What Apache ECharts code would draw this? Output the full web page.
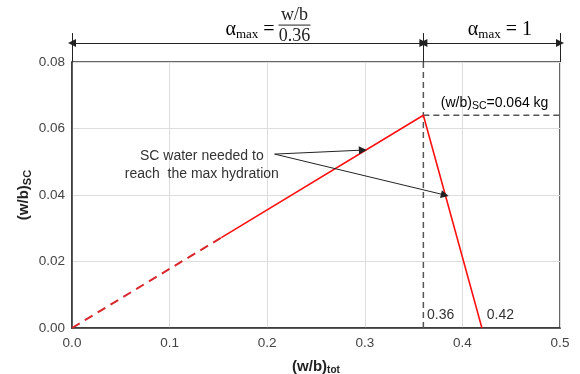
<!DOCTYPE html>
<html>
<head>
<meta charset="utf-8">
<script src="https://cdn.jsdelivr.net/npm/echarts@6/dist/echarts.min.js"></script>
<style>
html,body{margin:0;padding:0;background:#fff;}
#main{width:580px;height:374px;}
</style>
</head>
<body>
<div id="main"></div>
<script>
// curve of (w/b)sc against (w/b)tot
let dashedPart = [[0, 0], [0.153, 0.0272]];
let solidPart = [[0.153, 0.0272], [0.36, 0.064], [0.42, 0]];
let peakX = 0.36, peakY = 0.064, endX = 0.42;
let xMax = 0.5, yMax = 0.08;
// dimension line above the plot
let dimTop = 0.0887, dimY = 0.0857;
// annotation arrows: start, ends
let noteStart = [0.2076, 0.0523];
let noteEnds = [[0.298, 0.0535], [0.382, 0.040]];

let chart = echarts.init(document.getElementById('main'));
let font = '"Liberation Sans", Arial, sans-serif';
let serif = '"Liberation Serif", "DejaVu Serif", serif';

let refStyle = {color: '#555', width: 1.5, type: [6, 4]};
let blackLine = {color: '#222', width: 1, type: 'solid', opacity: 1, curveness: 0};

function linesSeries(pairs, sym) {
    return {
        type: 'lines', coordinateSystem: 'cartesian2d', clip: false, silent: true, z: 6,
        symbol: sym, symbolSize: 8, lineStyle: blackLine,
        data: pairs.map(p => ({coords: p}))
    };
}

option = {
    animation: false,
    grid: {left: 72, right: 20, top: 62, bottom: 46, outerBoundsMode: 'none', containLabel: false,
        show: true, borderColor: '#333', borderWidth: 1.5},
    xAxis: {
        type: 'value', min: 0, max: xMax, interval: 0.1,
        name: '{b|(w/b)}{s|tot}', nameLocation: 'middle', nameGap: 30,
        nameTextStyle: {rich: {
            b: {fontFamily: font, fontWeight: 'bold', fontSize: 15, color: '#222'},
            s: {fontFamily: font, fontWeight: 'bold', fontSize: 10, color: '#222', verticalAlign: 'bottom', padding: [7, 0, 0, 0]}
        }},
        axisLine: {lineStyle: {color: '#333', width: 1.5}},
        axisTick: {show: false},
        axisLabel: {fontFamily: font, fontSize: 13.5, color: '#444', margin: 8, formatter: v => v.toFixed(1)},
        splitLine: {lineStyle: {color: '#ddd', width: 1}}
    },
    yAxis: {
        type: 'value', min: 0, max: yMax, interval: 0.02,
        name: '{b|(w/b)}{s|SC}', nameLocation: 'middle', nameGap: 39, nameRotate: 90, nameMoveOverlap: false,
        nameTextStyle: {rich: {
            b: {fontFamily: font, fontWeight: 'bold', fontSize: 15, color: '#222'},
            s: {fontFamily: font, fontWeight: 'bold', fontSize: 11, color: '#222', verticalAlign: 'bottom', padding: [7, 0, 0, 0]}
        }},
        axisLine: {show: true, lineStyle: {color: '#333', width: 1.5}},
        axisTick: {show: false},
        axisLabel: {fontFamily: font, fontSize: 13.5, color: '#444', margin: 7, formatter: v => v.toFixed(2)},
        splitLine: {lineStyle: {color: '#ddd', width: 1}}
    },
    series: [{
        type: 'line', data: dashedPart, symbol: 'none', z: 5,
        lineStyle: {color: '#d9262b', width: 2, type: [9, 6]}
    }, {
        type: 'line', data: solidPart, symbol: 'none', z: 5,
        lineStyle: {color: '#ff1010', width: 1.6}
    }, {
        type: 'line', data: [[peakX, 0], [peakX, yMax]], symbol: 'none', z: 4, lineStyle: refStyle
    }, {
        type: 'line', data: [[peakX, peakY], [xMax, peakY]], symbol: 'none', z: 4, lineStyle: refStyle
    },
    linesSeries([
        [[0, yMax], [0, dimTop]],
        [[peakX, yMax], [peakX, dimTop]],
        [[xMax, yMax], [xMax, dimTop]]
    ], ['none', 'none']),
    linesSeries([
        [[0, dimY], [peakX, dimY]],
        [[peakX, dimY], [xMax, dimY]]
    ], ['triangle', 'triangle']),
    linesSeries([
        [noteStart, noteEnds[0]],
        [noteStart, noteEnds[1]]
    ], ['none', 'triangle'])
    ]
};

chart.setOption(option);

function px(p) { return chart.convertToPixel({gridIndex: 0}, p); }
let a = px([0.2076, 0.0896]), f = px([0.228, 0.0911]), fw = px([0.228, 0.0941]), fd = px([0.228, 0.0878]);
let a1 = px([0.4384, 0.0896]), lab = px([0.433, 0.0677]);
let l36 = px([0.3637, 0.0018]), l42 = px([0.425, 0.0018]), note = px([0.133, 0.0491]);
let serifStyle = {fontFamily: serif, fontSize: 18, fill: '#222'};
let rich = {
    a: {fontFamily: serif, fontSize: 20, color: '#222'},
    s: {fontFamily: serif, fontSize: 13, color: '#222', verticalAlign: 'bottom', padding: [8, 0, 0, 0]},
    e: {fontFamily: serif, fontSize: 20, color: '#222'}
};
chart.setOption({graphic: [
    {type: 'text', x: a[0], y: a[1], style: {text: '{a|α}{s|max}{e| =}', rich: rich, align: 'right', verticalAlign: 'middle'}},
    {type: 'text', x: fw[0], y: fw[1], style: Object.assign({text: 'w/b', align: 'center', verticalAlign: 'middle'}, serifStyle)},
    {type: 'line', shape: {x1: f[0] - 16, y1: f[1], x2: f[0] + 16, y2: f[1]}, style: {stroke: '#222', lineWidth: 1}},
    {type: 'text', x: fd[0], y: fd[1], style: Object.assign({text: '0.36', align: 'center', verticalAlign: 'middle'}, serifStyle)},
    {type: 'text', x: a1[0], y: a1[1], style: {text: '{a|α}{s|max}{e| = 1}', rich: rich, align: 'center', verticalAlign: 'middle'}},
    {type: 'text', x: lab[0], y: lab[1], style: {
        text: '{t|(w/b)}{s|SC}{t|=0.064 kg}', align: 'center', verticalAlign: 'middle',
        rich: {t: {fontFamily: font, fontSize: 14, color: '#333'},
               s: {fontFamily: font, fontSize: 10.5, color: '#333', verticalAlign: 'bottom', padding: [6, 0, 0, 0]}}
    }},
    {type: 'text', x: l36[0], y: l36[1], style: {text: '0.36', fontFamily: font, fontSize: 14, fill: '#333', align: 'left', verticalAlign: 'bottom'}},
    {type: 'text', x: l42[0], y: l42[1], style: {text: '0.42', fontFamily: font, fontSize: 14, fill: '#333', align: 'left', verticalAlign: 'bottom'}},
    {type: 'text', x: note[0], y: note[1], style: {text: 'SC water needed to\nreach  the max hydration', fontFamily: font, fontSize: 14, fill: '#333', align: 'center', verticalAlign: 'middle', lineHeight: 18}}
]});
</script>
</body>
</html>
